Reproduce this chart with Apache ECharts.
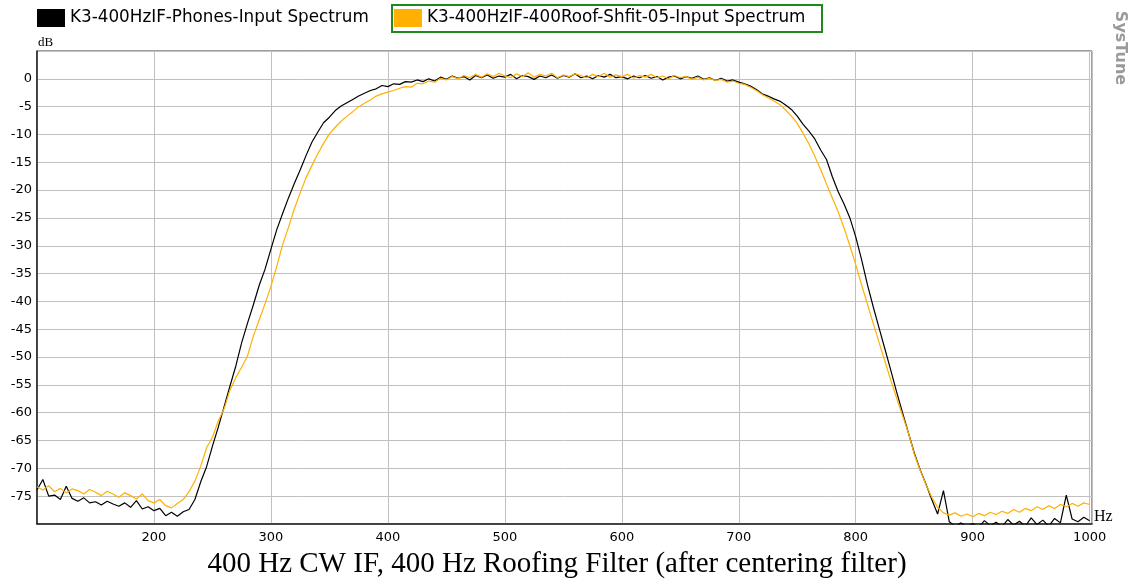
<!DOCTYPE html>
<html>
<head>
<meta charset="utf-8">
<script src="https://cdn.jsdelivr.net/npm/echarts@6/dist/echarts.min.js"></script>
<style>
html,body{margin:0;padding:0;background:#fff;}
#chart{width:1134px;height:584px;}
</style>
</head>
<body>
<div id="chart"></div>
<script>
// Frequency grid (Hz)
const freqs = [
  100,105,110,115,120,125,130,135,140,145,
  150,155,160,165,170,175,180,185,190,195,
  200,205,210,215,220,225,230,235,240,245,
  250,255,260,265,270,275,280,285,290,295,
  300,305,310,315,320,325,330,335,340,345,
  350,355,360,365,370,375,380,385,390,395,
  400,405,410,415,420,425,430,435,440,445,
  450,455,460,465,470,475,480,485,490,495,
  500,505,510,515,520,525,530,535,540,545,
  550,555,560,565,570,575,580,585,590,595,
  600,605,610,615,620,625,630,635,640,645,
  650,655,660,665,670,675,680,685,690,695,
  700,705,710,715,720,725,730,735,740,745,
  750,755,760,765,770,775,780,785,790,795,
  800,805,810,815,820,825,830,835,840,845,
  850,855,860,865,870,875,880,885,890,895,
  900,905,910,915,920,925,930,935,940,945,
  950,955,960,965,970,975,980,985,990,995,
  1000
];

// K3-400HzIF-Phones-Input Spectrum (dB)
const phones = [
  -73.9,-72.0,-75.0,-74.8,-75.6,-73.2,-75.4,-75.9,-75.3,-76.2,
  -76.0,-76.6,-75.9,-76.4,-76.8,-76.2,-77.0,-75.8,-77.3,-76.9,
  -77.6,-77.2,-78.5,-77.9,-78.6,-77.8,-77.4,-75.6,-72.4,-69.7,
  -66.0,-62.6,-58.9,-55.2,-51.6,-47.4,-43.9,-40.6,-37.1,-34.2,
  -30.6,-27.1,-24.2,-21.4,-18.8,-16.4,-13.8,-11.4,-9.6,-7.9,
  -6.9,-5.7,-4.9,-4.3,-3.7,-3.1,-2.6,-2.1,-1.8,-1.2,
  -1.4,-0.9,-1.0,-0.5,-0.6,-0.2,-0.5,0.0,-0.4,0.3,
  -0.1,0.5,0.1,0.4,-0.2,0.6,0.2,0.7,0.1,0.5,
  0.3,0.8,0.0,0.6,0.4,-0.1,0.5,0.2,0.7,0.1,
  0.6,0.3,0.9,0.2,0.5,0.0,0.6,0.3,0.8,0.2,
  0.4,0.0,0.5,0.2,0.6,0.1,0.4,-0.2,0.3,0.5,
  0.0,0.4,0.1,0.5,-0.1,0.2,-0.3,0.1,-0.4,-0.2,
  -0.6,-0.9,-1.3,-1.9,-2.7,-3.1,-3.6,-4.0,-4.7,-5.5,
  -6.7,-8.2,-9.4,-10.8,-12.8,-14.5,-17.6,-20.3,-22.5,-25.0,
  -28.4,-32.5,-37.0,-41.0,-44.8,-48.6,-52.4,-56.3,-60.0,-63.6,
  -67.2,-70.2,-72.8,-75.6,-78.2,-74.0,-79.6,-80.4,-79.8,-80.5,
  -79.9,-80.6,-79.4,-80.3,-79.7,-80.5,-79.2,-80.2,-79.5,-80.4,
  -78.9,-80.1,-79.3,-80.4,-79.0,-79.8,-74.8,-79.1,-79.6,-78.8,
  -79.4
];

// K3-400HzIF-400Roof-Shfit-05-Input Spectrum (dB)
const roof = [
  -73.3,-73.9,-73.1,-74.2,-73.6,-74.4,-73.7,-74.0,-74.6,-73.8,
  -74.3,-74.9,-74.1,-74.6,-75.2,-74.4,-74.9,-75.5,-74.6,-75.8,
  -76.2,-75.6,-76.7,-77.1,-76.3,-75.6,-74.2,-72.3,-69.6,-66.3,
  -64.4,-61.5,-59.3,-55.9,-53.7,-51.8,-49.8,-46.2,-43.3,-40.4,
  -37.3,-33.7,-29.8,-26.7,-23.4,-20.5,-17.8,-15.6,-13.5,-11.6,
  -9.9,-8.7,-7.6,-6.7,-5.9,-5.0,-4.4,-3.8,-3.1,-2.7,
  -2.4,-2.1,-1.7,-1.4,-1.5,-0.8,-0.9,-0.4,-0.6,0.1,
  -0.2,0.4,0.0,0.6,0.2,0.8,0.3,0.9,0.4,1.0,
  0.5,0.2,0.9,0.4,1.1,0.3,0.8,0.5,1.0,0.2,
  0.7,0.4,0.9,0.6,0.2,0.8,0.4,1.0,0.3,0.7,
  0.4,0.8,0.1,0.6,0.3,0.8,0.2,0.5,0.0,0.6,
  0.2,0.4,-0.1,0.3,-0.2,0.1,-0.3,-0.1,-0.6,-0.4,
  -0.8,-1.0,-1.5,-2.1,-2.8,-3.4,-4.0,-4.6,-5.6,-6.7,
  -8.0,-9.8,-11.7,-13.9,-16.3,-18.9,-21.4,-23.9,-26.8,-30.0,
  -33.4,-37.0,-40.5,-44.0,-47.4,-50.8,-54.2,-57.4,-60.5,-63.6,
  -67.4,-70.3,-72.9,-75.2,-77.0,-78.0,-78.4,-78.0,-78.6,-78.2,
  -78.7,-78.1,-78.5,-77.9,-78.3,-77.7,-78.1,-77.4,-77.9,-77.2,
  -77.6,-76.9,-77.4,-76.7,-77.2,-76.5,-76.9,-76.3,-76.8,-76.2,
  -76.5
];

const seriesNames = ['K3-400HzIF-Phones-Input Spectrum', 'K3-400HzIF-400Roof-Shfit-05-Input Spectrum'];
const seriesColors = ['#000000', '#ffb000'];
const xTickLabels = [200, 300, 400, 500, 600, 700, 800, 900, 1000];
const yTickLabels = [0, -5, -10, -15, -20, -25, -30, -35, -40, -45, -50, -55, -60, -65, -70, -75];
const chartTitle = '400 Hz CW IF, 400 Hz Roofing Filter (after centering filter)';

const pair = (ys) => freqs.map((f, i) => [f, ys[i]]);

const chart = echarts.init(document.getElementById('chart'), null, {renderer: 'canvas'});
chart.setOption({
  animation: false,
  backgroundColor: '#ffffff',
  grid: {left: 37, right: 42, top: 51, bottom: 60, show: true, borderColor: '#404040', borderWidth: 1, backgroundColor: '#ffffff'},
  legend: [
    {data: [seriesNames[0]], left: 37, top: 9, padding: 0, itemWidth: 28, itemHeight: 18, icon: 'rect', itemGap: 0,
     textStyle: {fontFamily: 'DejaVu Sans', fontSize: 16.8, color: '#000'}},
    {data: [seriesNames[1]], left: 394, top: 9, padding: 0, itemWidth: 28, itemHeight: 18, icon: 'rect', itemGap: 0,
     textStyle: {fontFamily: 'DejaVu Sans', fontSize: 16.8, color: '#000'}}
  ],
  xAxis: {
    type: 'value', min: 100, max: 1002, interval: 100,
    axisLine: {show: true, onZero: false, lineStyle: {color: '#202020', width: 1.5}},
    axisTick: {show: false},
    splitLine: {show: true, lineStyle: {color: '#c0c0c0', width: 1}},
    axisLabel: {
      color: '#000', fontFamily: 'DejaVu Sans', fontSize: 13, margin: 7,
      formatter: (v) => xTickLabels.indexOf(v) >= 0 ? String(v) : ''
    }
  },
  yAxis: {
    type: 'value', min: -80, max: 5, interval: 5,
    axisLine: {show: true, onZero: false, lineStyle: {color: '#202020', width: 1.5}},
    axisTick: {show: false},
    splitLine: {show: true, lineStyle: {color: '#c0c0c0', width: 1}},
    axisLabel: {
      color: '#000', fontFamily: 'DejaVu Sans', fontSize: 13, margin: 5,
      formatter: (v) => yTickLabels.indexOf(v) >= 0 ? String(v) : ''
    }
  },
  series: [
    {name: seriesNames[0], type: 'line', data: pair(phones), showSymbol: false, symbol: 'none', clip: true,
     lineStyle: {color: seriesColors[0], width: 1.2}, itemStyle: {color: seriesColors[0]}},
    {name: seriesNames[1], type: 'line', data: pair(roof), showSymbol: false, symbol: 'none', clip: true,
     lineStyle: {color: seriesColors[1], width: 1.2}, itemStyle: {color: seriesColors[1]}}
  ],
  graphic: [
    {type: 'rect', shape: {x: 392, y: 5, width: 430, height: 27}, style: {fill: 'none', stroke: '#1e8a1e', lineWidth: 2}, silent: true},
    {type: 'text', left: 38, top: 36, style: {text: 'dB', font: '13px "Liberation Serif"', fill: '#000'}},
    {type: 'text', left: 1094, top: 509, style: {text: 'Hz', font: '16px "Liberation Serif"', fill: '#000'}},
    {type: 'text', x: 1120, y: 48, rotation: -Math.PI / 2,
     style: {text: 'SysTune', font: 'bold 16px "DejaVu Sans"', fill: '#9a9a9a', textAlign: 'center', textVerticalAlign: 'middle'}},
    {type: 'text', x: 557, y: 564,
     style: {text: chartTitle, font: '29px "Liberation Serif"', fill: '#000', textAlign: 'center', textVerticalAlign: 'middle'}}
  ]
});
</script>
</body>
</html>
